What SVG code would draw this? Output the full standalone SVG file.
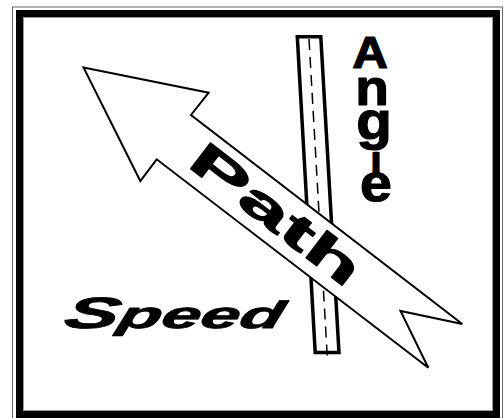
<svg xmlns="http://www.w3.org/2000/svg" width="504" height="418" viewBox="0 0 504 418">
<style>
.sans{font-family:"Liberation Sans",Arial,sans-serif;font-weight:bold;fill:#000;stroke:#000;stroke-linejoin:round}
.ln{fill:none;stroke:#000}
</style>
<rect width="504" height="418" fill="#fff"/>
<g id="frame">
<rect x="12.5" y="7" width="490" height="420" fill="none" stroke="#666" stroke-width="1"/>
<rect x="19.5" y="13.5" width="477" height="401" class="ln" stroke-width="7"/>
<rect x="23.5" y="17.5" width="469" height="393" fill="none" stroke="#999" stroke-width="1"/>
</g>
<g id="post">
<polygon points="297.3,36.7 320.8,36.7 339,352.6 315.2,352.6" fill="#fff" stroke="#000" stroke-width="3.5" stroke-linejoin="miter"/>
<line x1="309" y1="39" x2="327.3" y2="357" stroke="#000" stroke-width="1.5" stroke-dasharray="11 7"/>
</g>
<g id="arrow">
<polygon points="83.5,67.5 208.7,92.7 191,115 462.3,324 400.5,311 428.3,367.8 156.7,159.3 140.3,181" fill="#fff" stroke="#000" stroke-width="2" stroke-linejoin="miter"/>
<text class="sans" font-size="48" stroke-width="1" text-anchor="middle" transform="translate(266,227) rotate(37.6) scale(1.95,1)">Path</text>
</g>
<g id="angle">
<text class="sans" stroke-width="1.2" text-anchor="middle" transform="translate(373,0) scale(1.1,1)"><tspan x="-2.7" y="68" font-size="45">A</tspan><tspan x="-0.9" y="105.5" font-size="50">n</tspan><tspan x="0.9" y="139" font-size="53">g</tspan><tspan x="2.7" y="173" font-size="28" stroke-width="2.6">l</tspan><tspan x="2.7" y="201" font-size="52">e</tspan></text>
</g>
<g id="speed">
<text class="sans" stroke-width="0.8" font-style="italic" transform="translate(62,328) skewX(-15) scale(1.85,1)"><tspan font-size="44">S</tspan><tspan font-size="38">peed</tspan></text>
</g>
</svg>
